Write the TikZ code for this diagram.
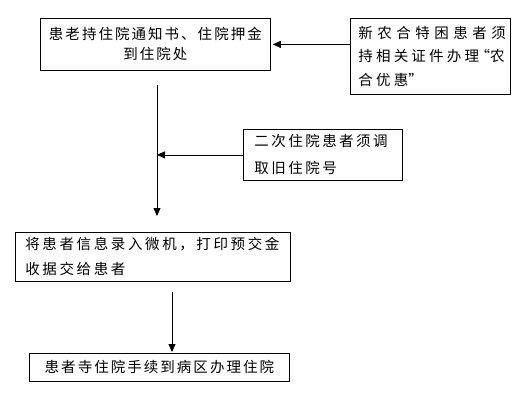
\documentclass[tikz,border=0pt]{standalone}
\usepackage{fontspec}
\newfontfamily\cjk{Noto Sans CJK SC}
\usetikzlibrary{arrows.meta}
\begin{document}
\begin{tikzpicture}[x=1pt, y=-1pt,
    box/.style={draw, line width=0.8pt, anchor=north west, align=left,
                inner ysep=0pt, font=\cjk\fontsize{14.5}{20}\selectfont\addfontfeature{LetterSpace=14}},
    arr/.style={line width=0.8pt, -{Triangle[length=8pt, width=7pt]}}]

  \useasboundingbox (0,0) rectangle (523,400);

  % main column
  \node[box, align=center, inner xsep=6pt, text width=218pt, minimum height=52pt] (intake) at (40,18)
    {患老持住院通知书、住院押金\\到住院处};
  \node[box, inner xsep=10pt, text width=255pt, minimum height=49pt,
        font=\cjk\fontsize{14.5}{25}\selectfont\addfontfeature{LetterSpace=18}] (record) at (15,232)
    {将患者信息录入微机，打印预交金\\收据交给患者};
  \node[box, align=center, inner xsep=6pt, text width=248pt, minimum height=28pt] (ward) at (29,353)
    {患者寺住院手续到病区办理住院};

  % side notes
  \node[box, inner xsep=8pt, text width=144pt, minimum height=76pt,
        font=\cjk\fontsize{14.5}{23.5}\selectfont] (rural) at (350,18)
    {{\addfontfeature{LetterSpace=31}新农合特困患者须}\\
     {\addfontfeature{LetterSpace=22}持相关证件办理}\makebox[11pt][r]{“}农\\
     {\addfontfeature{LetterSpace=22}合优惠}”};
  \node[box, inner xsep=11pt, text width=137pt, minimum height=51pt,
        font=\cjk\fontsize{14.5}{27}\selectfont\addfontfeature{LetterSpace=17}] (repeat) at (243,129)
    {二次住院患者须调\\取旧住院号};

  % connectors
  \coordinate (trunkTop) at (157,85);
  \coordinate (trunkEnd) at (157,216);
  \coordinate (downTop) at (172,292);
  \coordinate (downEnd) at (172,352);

  \draw[arr, shorten >=2pt] (intake.east -| rural.west) -- (intake.east);
  \draw[arr] (trunkTop) -- (trunkEnd);
  \draw[arr] (repeat.west) -- (repeat.west -| trunkTop);
  \draw[arr] (downTop) -- (downEnd);
\end{tikzpicture}
\end{document}
